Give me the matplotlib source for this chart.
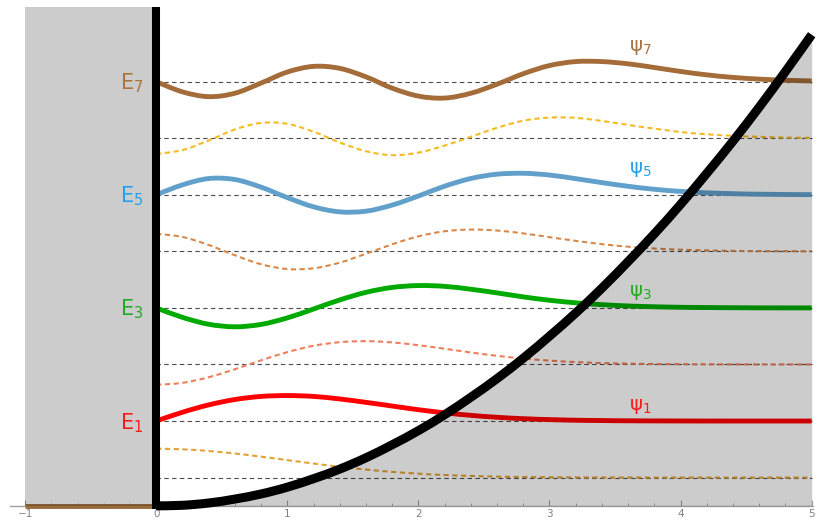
import matplotlib.pyplot as plt
from matplotlib.patches import Rectangle, PathPatch
from matplotlib.path import Path
from matplotlib.ticker import MultipleLocator

# sample positions along x (read every 0.2)
x_pts = [0.0, 0.2, 0.4, 0.6, 0.8, 1.0, 1.2, 1.4, 1.6, 1.8, 2.0, 2.2, 2.4,
         2.6, 2.8, 3.0, 3.2, 3.4, 3.6, 3.8, 4.0, 4.2, 4.4, 4.6, 4.8, 5.0]

energy_levels = [0.5, 1.5, 2.5, 3.5, 4.5, 5.5, 6.5, 7.5]

# wavefunction offsets from their energy level
psi_0 = [0.51, 0.50, 0.47, 0.426, 0.37, 0.309, 0.248, 0.191, 0.142, 0.101, 0.069, 0.045, 0.029,
         0.017, 0.010, 0.006, 0.003, 0.002, 0.001, 0, 0, 0, 0, 0, 0, 0]
psi_1 = [0, 0.155, 0.285, 0.38, 0.435, 0.45, 0.435, 0.39, 0.33, 0.265, 0.20, 0.145, 0.10,
         0.066, 0.041, 0.025, 0.014, 0.008, 0.004, 0.002, 0.001, 0, 0, 0, 0, 0]
psi_2 = [-0.36, -0.325, -0.226, -0.084, 0.073, 0.218, 0.33, 0.394, 0.412, 0.39, 0.34, 0.278, 0.212,
         0.153, 0.105, 0.068, 0.042, 0.025, 0.014, 0.007, 0.004, 0.002, 0.001, 0, 0, 0]
psi_3 = [0, -0.167, -0.289, -0.334, -0.292, -0.177, -0.02, 0.141, 0.275, 0.362, 0.395, 0.381, 0.33,
         0.265, 0.195, 0.135, 0.09, 0.057, 0.034, 0.02, 0.011, 0.006, 0.003, 0.001, 0, 0]
psi_4 = [0.31, 0.255, 0.113, -0.069, -0.228, -0.313, -0.30, -0.20, -0.043, 0.125, 0.265, 0.355, 0.385,
         0.368, 0.317, 0.251, 0.185, 0.127, 0.082, 0.05, 0.029, 0.016, 0.008, 0.004, 0.002, 0.001]
psi_5 = [0, 0.175, 0.287, 0.27, 0.135, -0.05, -0.213, -0.302, -0.29, -0.182, -0.022, 0.152, 0.288,
         0.364, 0.38, 0.349, 0.285, 0.215, 0.15, 0.097, 0.06, 0.035, 0.019, 0.01, 0.005, 0.002]
psi_6 = [-0.28, -0.21, -0.04, 0.155, 0.27, 0.255, 0.115, -0.075, -0.23, -0.30, -0.255, -0.13, 0.025,
         0.185, 0.31, 0.365, 0.36, 0.305, 0.235, 0.17, 0.11, 0.07, 0.042, 0.024, 0.012, 0.006]
psi_7 = [0, -0.18, -0.265, -0.205, -0.025, 0.17, 0.27, 0.235, 0.085, -0.115, -0.255, -0.29, -0.205,
         -0.045, 0.14, 0.285, 0.355, 0.355, 0.315, 0.25, 0.18, 0.12, 0.075, 0.045, 0.025, 0.012]

# potential curve
potential = [0, 0.01, 0.05, 0.12, 0.21, 0.33, 0.48, 0.65, 0.85, 1.08, 1.33, 1.61, 1.92,
             2.25, 2.61, 3.0, 3.41, 3.85, 4.32, 4.81, 5.33, 5.88, 6.45, 7.05, 7.68, 8.33]

odd_states = {1: (psi_1, '#ff0000', '#ff1a1a'),
              3: (psi_3, '#00aa00', '#22aa22'),
              5: (psi_5, '#62a0cc', '#22a0f0'),
              7: (psi_7, '#a36c38', '#a8733f')}
even_states = {0: (psi_0, '#e3a235'),
               2: (psi_2, '#f07e5c'),
               4: (psi_4, '#d8894a'),
               6: (psi_6, '#f6bb22')}
psi_label_y = {1: 1.76, 3: 3.78, 5: 5.94, 7: 8.11}


def smooth_path(xs, ys):
    # Catmull-Rom style bezier through the read points
    pts = list(zip(xs, ys))
    verts = [pts[0]]
    codes = [Path.MOVETO]
    for i in range(len(pts) - 1):
        p0 = pts[i - 1] if i > 0 else pts[i]
        p1 = pts[i]
        p2 = pts[i + 1]
        p3 = pts[i + 2] if i + 2 < len(pts) else p2
        c1 = (p1[0] + (p2[0] - p0[0]) / 6, p1[1] + (p2[1] - p0[1]) / 6)
        c2 = (p2[0] - (p3[0] - p1[0]) / 6, p2[1] - (p3[1] - p1[1]) / 6)
        verts += [c1, c2, p2]
        codes += [Path.CURVE4] * 3
    return Path(verts, codes)


plt.rcParams['mathtext.fontset'] = 'dejavusans'

fig = plt.figure(figsize=(8.18, 5.2), dpi=100)
ax = fig.add_axes([10 / 818, 0, 803 / 818, 513 / 520])
ax.set_xlim(-1.115, 5.01)
ax.set_ylim(-0.25, 8.82)

# energy levels
for E in energy_levels:
    ax.plot([0, 5], [E, E], color='#4d4d4d', lw=0.8, ls=(0, (4, 3)), zorder=2)

# even states (dashed)
for n, (psi, col) in even_states.items():
    E = energy_levels[n]
    ax.add_patch(PathPatch(smooth_path(x_pts, [E + p for p in psi]), facecolor='none',
                           edgecolor=col, lw=1.5, ls=(0, (2.5, 1.7)), zorder=3))

# odd states (solid)
for n, (psi, col, lab_col) in odd_states.items():
    E = energy_levels[n]
    ax.add_patch(PathPatch(smooth_path(x_pts, [E + p for p in psi]), facecolor='none',
                           edgecolor=col, lw=3.5, capstyle='butt', joinstyle='round', zorder=4))

ax.plot([-1, 0], [0, 0], color='#9a6c3a', lw=3.5, zorder=4, clip_on=False,
        solid_capstyle='butt')

# forbidden regions, shaded on top of the curves
ax.add_patch(Rectangle((-1, 0), 1, 8.82, color='black', alpha=0.2, lw=0, zorder=5))
ax.fill_between(x_pts, 0, potential, color='black', alpha=0.2, lw=0, zorder=5)

# walls
ax.add_patch(PathPatch(smooth_path(x_pts, potential), facecolor='none', edgecolor='black',
                       lw=6.5, capstyle='butt', zorder=6, clip_on=False))
ax.plot([0, 0], [-0.05, 8.82], color='black', lw=5.8, zorder=6, clip_on=False,
        solid_capstyle='butt')

# labels
for n, (psi, col, lab_col) in odd_states.items():
    E = energy_levels[n]
    ax.text(-0.1, E - 0.14, r'$\mathrm{E}_%d$' % n, color=lab_col, fontsize=15,
            ha='right', va='baseline', zorder=7)
    ax.text(3.69, psi_label_y[n], r'$\mathrm{\psi}_%d$' % n, color=lab_col, fontsize=14,
            ha='center', va='center', zorder=7)

# axis
for side in ['left', 'top', 'right']:
    ax.spines[side].set_visible(False)
ax.spines['bottom'].set_position(('data', 0))
ax.spines['bottom'].set_color('#a0a0a0')
ax.spines['bottom'].set_linewidth(1.0)
ax.set_xticks([-1, 0, 1, 2, 3, 4, 5])
ax.xaxis.set_minor_locator(MultipleLocator(0.2))
ax.tick_params(axis='x', which='both', direction='in', color='#a0a0a0',
               labelsize=7.5, labelcolor='#808080', pad=2)
ax.tick_params(axis='x', which='major', length=4)
ax.tick_params(axis='x', which='minor', length=2.5)
ax.set_yticks([])

fig.savefig('out.png', dpi=100)
